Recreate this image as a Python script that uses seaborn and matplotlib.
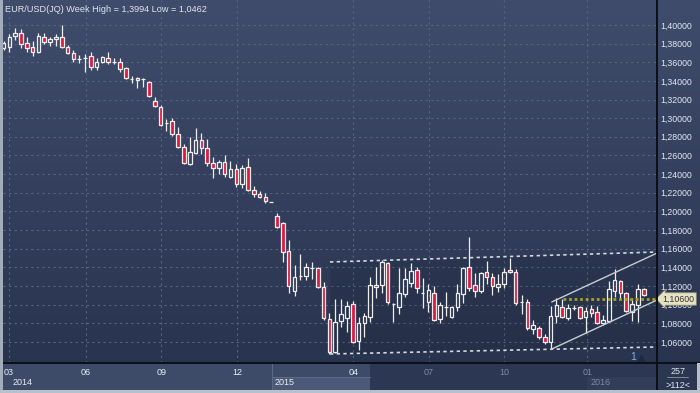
import numpy as np
import pandas as pd
import matplotlib
matplotlib.use('Agg')
import matplotlib.pyplot as plt
import matplotlib.transforms as mtransforms
from matplotlib.lines import Line2D
from matplotlib.patches import Rectangle
from matplotlib.ticker import FuncFormatter
import seaborn as sns

# EUR/USD weekly candles, oldest first
opens = [
    1.3753, 1.3764, 1.3882, 1.3914, 1.3807, 1.3764, 1.3710, 1.3871, 1.3817, 1.3850,
    1.3871, 1.3764, 1.3699, 1.3635, 1.3646, 1.3667, 1.3549, 1.3603, 1.3646, 1.3603,
    1.3603, 1.3538, 1.3420, 1.3431, 1.3420, 1.3388, 1.3184, 1.3120, 1.2948, 1.2970,
    1.2830, 1.2691, 1.2508, 1.2626, 1.2766, 1.2680, 1.2519, 1.2465, 1.2530, 1.2369,
    1.2455, 1.2294, 1.2476, 1.2229, 1.2186, 1.2154, 1.2101, 1.1950, 1.1875, 1.1575,
    1.1146, 1.1307, 1.1307, 1.1392, 1.1392, 1.1188, 1.0845, 1.0491, 1.0824, 1.0856,
    1.1006, 1.0609, 1.0802, 1.0867, 1.1188, 1.1210, 1.1446, 1.1006, 1.0974, 1.1113,
    1.1231, 1.1371, 1.1124, 1.1028, 1.1124, 1.0845, 1.0974, 1.0867, 1.0974, 1.1113,
    1.1403, 1.1210, 1.1146, 1.1349, 1.1296, 1.1188, 1.1221, 1.1371, 1.1349, 1.1028,
    1.1028, 1.0738, 1.0749, 1.0652, 1.0598, 1.0877, 1.0974, 1.0856, 1.0963, 1.0974,
    1.0867, 1.0952, 1.0920, 1.0802, 1.0824, 1.1146, 1.1253, 1.1124, 1.0920, 1.0995,
    1.1167]
highs = [
    1.3828, 1.3903, 1.3968, 1.3957, 1.3871, 1.3828, 1.3914, 1.3914, 1.3871, 1.3903,
    1.4000, 1.3785, 1.3731, 1.3678, 1.3689, 1.3710, 1.3646, 1.3667, 1.3710, 1.3646,
    1.3646, 1.3549, 1.3453, 1.3442, 1.3431, 1.3399, 1.3227, 1.3141, 1.2991, 1.3002,
    1.2905, 1.2723, 1.2798, 1.2895, 1.2841, 1.2777, 1.2583, 1.2551, 1.2605, 1.2540,
    1.2508, 1.2498, 1.2573, 1.2272, 1.2219, 1.2197, 1.2101, 1.1983, 1.1886, 1.1693,
    1.1425, 1.1543, 1.1446, 1.1457, 1.1403, 1.1242, 1.0910, 1.1060, 1.1060, 1.1038,
    1.1038, 1.0867, 1.0910, 1.1296, 1.1403, 1.1478, 1.1460, 1.1017, 1.1392, 1.1392,
    1.1446, 1.1403, 1.1285, 1.1221, 1.1199, 1.1028, 1.1135, 1.0985, 1.1221, 1.1403,
    1.1725, 1.1339, 1.1349, 1.1467, 1.1339, 1.1328, 1.1392, 1.1500, 1.1382, 1.1103,
    1.1060, 1.0834, 1.0770, 1.0684, 1.0985, 1.1070, 1.1060, 1.1006, 1.0995, 1.0985,
    1.0974, 1.0995, 1.0985, 1.0888, 1.1253, 1.1382, 1.1264, 1.1135, 1.1070, 1.1221,
    1.1178]
lows = [
    1.3731, 1.3710, 1.3839, 1.3753, 1.3710, 1.3667, 1.3699, 1.3796, 1.3774, 1.3774,
    1.3753, 1.3689, 1.3603, 1.3592, 1.3495, 1.3517, 1.3517, 1.3592, 1.3581, 1.3581,
    1.3495, 1.3420, 1.3377, 1.3324, 1.3334, 1.3227, 1.3120, 1.2916, 1.2862, 1.2809,
    1.2680, 1.2508, 1.2498, 1.2616, 1.2616, 1.2487, 1.2358, 1.2401, 1.2369, 1.2358,
    1.2261, 1.2251, 1.2219, 1.2154, 1.2143, 1.2090, 1.2101, 1.1821, 1.1457, 1.1124,
    1.1092, 1.1264, 1.1264, 1.1274, 1.1178, 1.0834, 1.0470, 1.0480, 1.0759, 1.0706,
    1.0588, 1.0513, 1.0652, 1.0813, 1.1070, 1.1124, 1.1006, 1.0813, 1.0899, 1.1081,
    1.1188, 1.1124, 1.0963, 1.0920, 1.0824, 1.0802, 1.0877, 1.0856, 1.0931, 1.1017,
    1.1146, 1.1081, 1.1124, 1.1221, 1.1103, 1.1135, 1.1178, 1.1339, 1.0995, 1.0899,
    1.0727, 1.0684, 1.0631, 1.0577, 1.0523, 1.0802, 1.0856, 1.0834, 1.0942, 1.0845,
    1.0695, 1.0867, 1.0791, 1.0791, 1.0813, 1.1081, 1.1060, 1.0920, 1.0824, 1.0813,
    1.1092]
closes = [
    1.3807, 1.3871, 1.3914, 1.3796, 1.3753, 1.3710, 1.3882, 1.3817, 1.3850, 1.3871,
    1.3764, 1.3699, 1.3635, 1.3638, 1.3648, 1.3549, 1.3603, 1.3656, 1.3603, 1.3605,
    1.3528, 1.3431, 1.3422, 1.3410, 1.3418, 1.3238, 1.3131, 1.2927, 1.2952, 1.2830,
    1.2691, 1.2519, 1.2637, 1.2766, 1.2680, 1.2519, 1.2465, 1.2530, 1.2401, 1.2455,
    1.2294, 1.2465, 1.2229, 1.2186, 1.2154, 1.2111, 1.2101, 1.1832, 1.1564, 1.1199,
    1.1296, 1.1310, 1.1403, 1.1395, 1.1188, 1.0856, 1.0491, 1.0813, 1.0899, 1.0985,
    1.0598, 1.0802, 1.0877, 1.1210, 1.1210, 1.1457, 1.1028, 1.1008, 1.1124, 1.1274,
    1.1360, 1.1178, 1.1127, 1.1156, 1.0834, 1.0995, 1.0977, 1.0974, 1.1124, 1.1392,
    1.1178, 1.1146, 1.1339, 1.1296, 1.1199, 1.1221, 1.1349, 1.1349, 1.1017, 1.1030,
    1.0749, 1.0781, 1.0652, 1.0598, 1.0877, 1.0995, 1.0867, 1.0963, 1.0966, 1.0856,
    1.0931, 1.0910, 1.0802, 1.0834, 1.1167, 1.1264, 1.1124, 1.0931, 1.1006, 1.1167,
    1.1103]

# month ticks (position in bars) and year labels
month_ticks = [0.9, 14.2, 27.1, 40.1, 60.1, 73.1, 86.0, 100.3]
month_labels = ['03', '06', '09', '12', '04', '07', '10', '01']
year_pos = [1.6, 46.6, 100.8]
year_labels = ['2014', '2015', '2016']

# drawn lines: horizontal range, rising channel, level
range_x = [56.1, 112.3]
range_top = [1.1457, 1.1564]
range_bot = [1.0470, 1.0545]
trend_x = [94.2, 112.3]
trend_top = [1.1028, 1.1553]
trend_bot = [1.0523, 1.1049]
level_x = [96.1, 112.3]
level_price = 1.106

title = 'EUR/USD(JQ) Week High = 1,3994 Low = 1,0462'

df = pd.DataFrame({'open': opens, 'high': highs, 'low': lows, 'close': closes})
df['x'] = np.arange(len(df))

sns.set_theme(style='dark')
plt.rcParams['font.family'] = ['Liberation Sans', 'DejaVu Sans']

W, H = 700, 393
fig = plt.figure(figsize=(7, 3.93), dpi=100)
fig.patch.set_facecolor('#2b3651')

# background gradient over the whole figure
bg = fig.add_axes([0, 0, 1, 1], zorder=-5)
bg.axis('off')
top_c = np.array([0x3f, 0x4c, 0x6b]) / 255
bot_c = np.array([0x27, 0x32, 0x4d]) / 255
t = np.linspace(0, 1, 256)[:, None, None]
grad = top_c * (1 - t) + bot_c * t
bg.imshow(np.repeat(grad, 2, axis=1), aspect='auto', extent=[0, 1, 0, 1])

ax = fig.add_axes([3 / W, 30 / H, 654 / W, 363 / H], zorder=2)
ax.set_facecolor('none')
for s in ax.spines.values():
    s.set_visible(False)
ax.set_xlim(-0.086, 112.28)
ax.set_ylim(1.0373, 1.4268)

# grid
ax.set_axisbelow(True)
ax.grid(True, color='#56637f', linestyle=(0, (2, 3)), linewidth=0.8)

# candles
edge = '#eeeeee'
up = df['close'] >= df['open']
body_top = df[['open', 'close']].max(axis=1)
body_bot = df[['open', 'close']].min(axis=1)
ax.vlines(df['x'], body_top, df['high'], color=edge, lw=0.9, zorder=3)
ax.vlines(df['x'], df['low'], body_bot, color=edge, lw=0.9, zorder=3)
heights = np.maximum(body_top - body_bot, 0.0002)
ax.bar(df['x'][up], heights[up], bottom=body_bot[up], width=0.62,
       facecolor='none', edgecolor=edge, linewidth=0.9, zorder=4)
ax.bar(df['x'][~up], heights[~up], bottom=body_bot[~up], width=0.62,
       facecolor='#dc1a40', edgecolor=edge, linewidth=0.9, zorder=4)

# range box shading and lines
ax.fill_between(range_x, range_bot, range_top, color='black', alpha=0.09, lw=0, zorder=1)
for yy in (range_top, range_bot):
    sns.lineplot(x=range_x, y=yy, ax=ax, color='#d4d8e0', linewidth=1.2,
                 linestyle=(0, (2, 2)), zorder=5)
for yy in (trend_top, trend_bot):
    sns.lineplot(x=trend_x, y=yy, ax=ax, color='#c8ccd4', linewidth=1.0, zorder=5)
sns.lineplot(x=level_x, y=[level_price, level_price], ax=ax, color='#a3a31c',
             linewidth=2.0, linestyle=(0, (1, 1)), zorder=5)

# axes ticks
ax.yaxis.tick_right()
ax.set_yticks(np.arange(1.06, 1.4001, 0.02))
ax.yaxis.set_major_formatter(FuncFormatter(lambda v, _: f"{v:.5f}".replace('.', ',')))
ax.tick_params(axis='y', length=0, pad=2.5, labelsize=6.3, labelcolor='#e3e9f3')
ax.set_xticks(month_ticks, month_labels)
ax.tick_params(axis='x', length=0, pad=3.5, labelsize=6.5)
for lbl, pos in zip(ax.get_xticklabels(), month_ticks):
    lbl.set_color('#e8eef8' if pos < 63 else '#7d8aa3')
ax.set_xlabel('')
ax.set_ylabel('')

ax.text(0.003, 0.9725, title, transform=ax.transAxes, fontsize=6.6,
        color='#dfe5ef', va='center', ha='left')

# price label on right scale, covering the scale label beneath it
tr = mtransforms.blended_transform_factory(ax.transAxes, ax.transData)
ax.text(1.0085, level_price, '1,10600', transform=tr, fontsize=6.3, color='#333333',
        va='center', ha='left', zorder=20,
        bbox=dict(boxstyle='larrow,pad=0.2', fc='#e6e3c4', ec='#8a8a70', lw=0.6))
ax.text(108.2, 1.0437, '1', fontsize=7.5, color='#7fb0e8', ha='center', va='center')
ax.plot([109.6], [1.0425], marker='^', ms=4, color='#1e2940', zorder=5)

# bottom time panel
axb = fig.add_axes([3 / W, 3 / H, 654 / W, 27 / H], zorder=1)
axb.set_xlim(-0.086, 112.28)
axb.set_ylim(0, 1)
axb.axis('off')
axb.add_patch(Rectangle((-0.086, 0), 63.05, 1, color='#3d4a68', lw=0))
axb.add_patch(Rectangle((62.97, 0), 50, 1, color='#2c3753', lw=0))
axb.add_patch(Rectangle((46.1, 0), 16.87, 0.48, color='#4b5878', lw=0))
axb.add_patch(Rectangle((100.3, 0), 12, 0.48, color='#323d5a', lw=0))
axb.plot([46.1, 46.1], [0, 1], color='#5c6985', lw=0.8)
axb.plot([46.1, 62.97], [0.48, 0.48], color='#5c6985', lw=0.8)
for xp, lab in zip(year_pos, year_labels):
    axb.text(xp, 0.27, lab, fontsize=6.5, va='center', ha='left',
             color='#e8eef8' if xp < 63 else '#7d8aa3')

# right-bottom counter box
fig.add_artist(Rectangle((657 / W, 0), 43 / W, 30 / H, color='#2b3651', lw=0,
                         transform=fig.transFigure, zorder=0))
fig.text(678 / W, 1 - 371 / H, '257', fontsize=6.5, color='#e3e9f3', ha='center', va='center')
fig.text(678 / W, 1 - 385 / H, '>112<', fontsize=6.5, color='#e3e9f3', ha='center', va='center')
fig.add_artist(Line2D([667 / W, 688 / W], [1 - 377 / H] * 2, color='#8a96ad', lw=0.6))

# separators and outer border
fig.add_artist(Line2D([3 / W, 1], [1 - 363 / H] * 2, color='#0b0f18', lw=1.4, zorder=10))
fig.add_artist(Line2D([657 / W] * 2, [3 / H, 1], color='#0b0f18', lw=1.4, zorder=10))
fig.add_artist(Rectangle((0, 0), 3 / W, 1, color='#a3acbb', lw=0, transform=fig.transFigure, zorder=10))
fig.add_artist(Rectangle((0, 0), 1, 3 / H, color='#b8c0cc', lw=0, transform=fig.transFigure, zorder=10))
fig.add_artist(Rectangle((697 / W, 0), 3 / W, 30 / H, color='#b8c0cc', lw=0,
                         transform=fig.transFigure, zorder=10))

fig.savefig('out.png', dpi=100)
